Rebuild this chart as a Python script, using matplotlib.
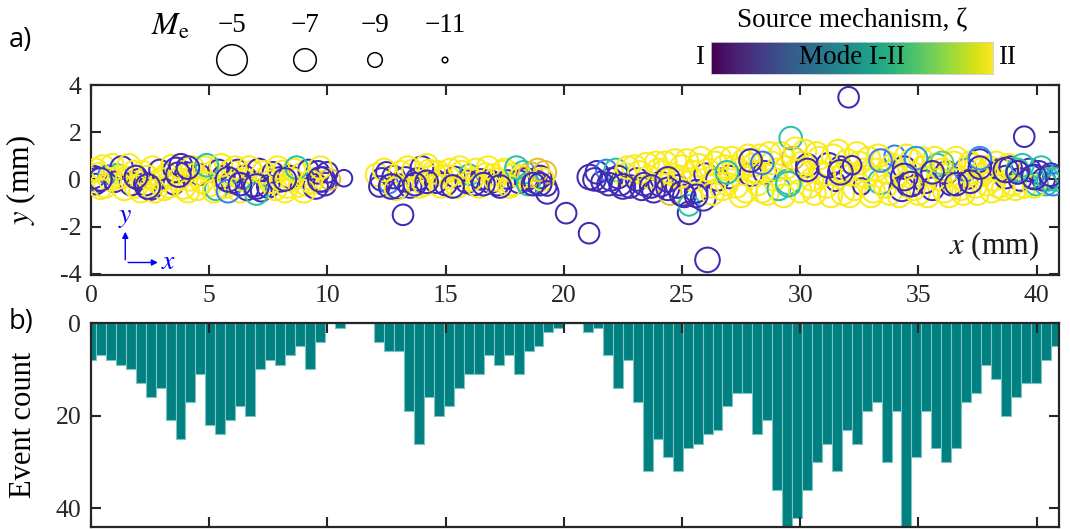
import numpy as np
import matplotlib
matplotlib.use("Agg")
import matplotlib.pyplot as plt
from matplotlib.colors import LinearSegmentedColormap

plt.rcParams['font.family'] = ['Liberation Serif', 'DejaVu Serif']
plt.rcParams['mathtext.fontset'] = 'stix'
plt.rcParams['axes.unicode_minus'] = False

# ---------------- data ----------------
# histogram of event count along x (bins of width bin_w, centred on k*bin_w)
bin_w = 0.4207
event_counts = [8, 7, 8, 9, 10, 13, 16, 14, 21, 25, 17, 11, 22, 24, 21, 18, 20, 10, 8, 9, 7, 5, 10, 4,
                0, 1, 0, 0, 0,
                4, 6, 6, 19, 26, 16, 20, 18, 14, 11, 11, 7, 9, 7, 11, 6, 5, 2, 1,
                0, 0,
                2, 1, 7, 14, 8, 17, 32, 25, 29, 32, 27, 26, 24, 23, 18, 15, 15, 24, 21, 36, 46, 42, 36, 30,
                26, 32, 23, 26, 19, 17, 30, 19, 46, 29, 19, 27, 30, 27, 17, 15, 9, 12, 20, 16, 13, 13, 8, 5]

# events: x (mm), y (mm), magnitude Me, source mechanism zeta (0 = mode I, 1 = mode II)
ev_x = [0.1, 0.2, 0.3, 0.35, 0.5, 0.6, 0.7, 0.9, 1.0, 1.1, 1.3, 1.4, 1.5, 1.7, 1.8, 2.0, 2.1, 2.2, 2.3, 2.5,
        2.6, 2.8, 2.9, 3.1, 3.2, 3.4, 3.5, 3.6, 3.8, 3.9, 4.0, 4.2, 4.3, 4.5, 4.6, 4.8, 5.0, 5.1, 5.3, 5.4,
        5.6, 5.7, 5.9, 6.0, 6.2, 6.3, 6.5, 6.6, 6.8, 6.9, 7.1, 7.2, 7.4, 7.5, 7.7, 7.8, 8.0, 8.1, 8.3, 8.4,
        8.6, 8.8, 8.9, 9.1, 9.2, 9.4, 9.5, 9.6, 9.8, 9.9, 10.0, 10.1, 10.7,
        12.1, 12.2, 12.3, 12.5, 12.6, 12.8, 13.0, 13.1, 13.2, 13.3, 13.5, 13.6, 13.8, 14.0, 14.1, 14.3, 14.4,
        14.6, 14.7, 14.9, 15.0, 15.2, 15.4, 15.5, 15.7, 15.9, 16.0, 16.2, 16.3, 16.5, 16.7, 16.9, 17.0, 17.2,
        17.4, 17.6, 17.8, 17.9, 18.1, 18.3, 18.4, 18.6, 18.8, 19.0, 19.2, 19.3, 19.3, 20.1, 21.07,
        21.1, 21.4, 21.6, 21.8, 22.0, 22.2, 22.4, 22.6, 22.8, 23.0, 23.1, 23.3, 23.5, 23.6, 23.8, 24.0, 24.1,
        24.3, 24.5, 24.6, 24.8, 25.0, 25.1, 25.3, 25.3, 25.4, 25.6, 25.7, 25.9, 26.0, 26.08, 26.2, 26.4, 26.5,
        26.7, 26.8, 27.0, 27.1, 27.3, 27.4, 27.6, 27.7, 27.9, 28.0, 28.2, 28.3, 28.5, 28.6, 28.8, 28.9, 29.1,
        29.2, 29.4, 29.5, 29.6, 29.7, 29.9, 30.0, 30.2, 30.3, 30.5, 30.6, 30.8, 30.9, 31.1, 31.2, 31.4, 31.5,
        31.7, 31.8, 32.0, 32.05, 32.2, 32.3, 32.5, 32.6, 32.8, 32.9, 33.1, 33.2, 33.4, 33.5, 33.7, 33.8, 34.0,
        34.1, 34.3, 34.4, 34.6, 34.7, 34.9, 35.0, 35.2, 35.3, 35.5, 35.6, 35.8, 35.9, 36.1, 36.2, 36.4, 36.5,
        36.7, 36.8, 37.0, 37.1, 37.3, 37.4, 37.6, 37.7, 37.9, 38.0, 38.2, 38.4, 38.5, 38.7, 38.9, 39.0, 39.2,
        39.3, 39.48, 39.5, 39.7, 39.8, 40.0, 40.1, 40.3, 40.4, 40.6, 40.8]
ev_y = [0.1, -0.2, 0.3, 0.0, 0.5, -0.3, 0.2, 0.6, -0.1, 0.3, 0.5, -0.4, 0.1, -0.2, 0.4, 0.0, -0.5, 0.3, -0.2, -0.35,
        0.5, -0.1, 0.4, -0.4, 0.2, 0.6, -0.2, 0.4, 0.6, -0.3, 0.3, 0.0, 0.5, -0.4, 0.2, 0.5, -0.2, 0.3, -0.4, 0.4,
        0.1, -0.3, 0.3, -0.1, 0.4, -0.5, 0.1, -0.4, 0.3, -0.2, 0.4, -0.5, 0.1, -0.3, 0.3, -0.4, 0.0, 0.4, -0.3, 0.1,
        0.4, -0.3, 0.2, -0.2, 0.4, 0.0, -0.3, 0.3, 0.0, -0.2, 0.3, 0.0, 0.05,
        0.2, -0.3, 0.0, 0.3, -0.2, 0.1, -0.3, 0.3, -1.5, 0.0, -0.3, 0.4, 0.0, 0.5, -0.2, 0.4, 0.1,
        -0.1, 0.3, 0.2, -0.2, 0.4, 0.1, -0.3, 0.3, -0.1, 0.2, -0.2, 0.4, 0.0, 0.3, -0.1, 0.2, -0.2,
        0.3, 0.0, -0.2, 0.2, -0.1, 0.3, 0.0, 0.2, -0.1, 0.1, 0.3, -0.3, -0.55, -1.43, -2.28,
        0.1, 0.3, -0.1, 0.4, 0.0, 0.4, -0.2, 0.2, -0.3, 0.5, 0.0, -0.4, 0.6, 0.1, -0.5, 0.4, -0.2,
        0.7, -0.6, 0.2, -0.3, 0.5, -0.7, -1.42, -1.1, 0.0, -0.5, 0.6, -0.8, 0.2, -3.41, -0.3, 0.7, 0.0,
        -0.4, 0.5, 0.1, 0.9, -0.3, 0.4, 0.8, -0.5, 0.2, 0.6, -0.2, 1.0, 0.3, -0.6, 0.7, 0.0, -0.4,
        1.1, 0.5, -0.1, 1.75, 0.9, 0.3, -0.5, 1.2, 0.6, 0.0, -0.6, 0.9, 0.3, -0.3, 0.6, 1.0, -0.1,
        0.5, -0.6, 0.8, 3.48, 0.2, -0.4, 0.7, -0.3, 0.1, 0.9, -0.5, 0.4, -0.1, 0.8, 0.3, -0.6, 1.0,
        0.1, -0.4, 0.5, -0.2, 0.8, 0.2, -0.6, 0.5, -0.1, 0.3, -0.4, 0.6, 0.0, -0.5, 0.3, -0.2, 0.7,
        0.1, -0.4, 0.4, 0.0, 0.6, -0.3, 0.8, 0.2, -0.2, 0.5, 0.0, -0.3, 0.4, 0.1, 0.5, -0.2, 0.3,
        0.0, 1.81, -0.3, 0.4, 0.1, -0.2, 0.3, 0.0, -0.2, 0.1, 0.0]
ev_m = [-7, -7.5, -8, -6.5, -6.5, -7, -8, -7, -7.5, -8.5, -7, -7, -7.5, -7, -8, -7.5, -7, -7, -7, -6.5,
        -7, -7, -7.5, -7, -7, -7.5, -7.5, -6.5, -7, -6.5, -7.5, -7, -7, -7, -7.5, -7, -6.5, -7.5, -7, -7.5,
        -7, -7, -6.5, -7, -7.5, -7, -7, -7, -7, -6.5, -7, -7.5, -7.5, -7, -7.5, -7, -6.5, -8, -7, -7,
        -7, -7.5, -7, -7, -7.5, -7, -6.5, -7, -6.5, -7, -7.5, -7.5, -8.5,
        -7, -7.5, -7, -7.5, -8, -7, -6.5, -7, -7.5, -6.5, -7, -7.5, -7, -7, -7, -7.5, -7,
        -7, -7, -8, -7, -7, -7.5, -7, -7, -7, -7.5, -7, -7, -7.5, -8, -7, -7.5, -7,
        -7, -8, -7, -7, -7, -7, -7, -6.5, -7, -7, -7, -8, -7, -7.5, -7.5,
        -6.5, -7, -7.5, -7.5, -7, -7, -7, -7, -7, -6.5, -7, -7, -6.5, -7, -7, -7, -6.5,
        -7, -7, -7, -7, -6.5, -7, -7, -7.5, -7, -7, -7, -6.5, -7, -6.5, -7, -7, -7,
        -7, -6.5, -7, -7, -7, -7, -7, -7, -7, -7, -7, -7, -7, -7, -7, -7, -7,
        -7, -7, -6.5, -7, -7, -7, -7, -7, -7, -7, -7, -7, -7, -7, -6.5, -7, -8,
        -7, -7, -7, -7.5, -7, -7, -7, -8.5, -7, -7, -7, -7, -6.5, -7, -7, -7, -7.5,
        -7, -6.5, -7, -6.5, -7, -7, -7, -7, -7, -7, -7, -7, -7, -7, -7, -7, -7,
        -7, -7, -7, -8, -7, -7, -7, -7, -7, -7, -7, -7, -7, -7, -7, -7, -7,
        -7, -7.5, -7, -7, -7, -7, -7, -7, -7, -7, -7]
ev_z = [0.02, 0.02, 0.98, 0.02, 0.98, 0.98, 0.3, 0.98, 0.02, 0.6, 0.02, 0.98, 0.98, 0.02, 0.98, 0.02, 0.98, 0.98, 0.02, 0.02,
        0.98, 0.98, 0.02, 0.98, 0.98, 0.98, 0.02, 0.02, 0.02, 0.98, 0.02, 0.98, 0.98, 0.98, 0.02, 0.98, 0.98, 0.98, 0.6, 0.02,
        0.02, 0.98, 0.98, 0.02, 0.02, 0.98, 0.02, 0.02, 0.98, 0.02, 0.02, 0.02, 0.98, 0.02, 0.02, 0.98, 0.02, 0.98, 0.98, 0.02,
        0.98, 0.98, 0.98, 0.98, 0.02, 0.98, 0.02, 0.02, 0.02, 0.02, 0.02, 0.88, 0.02,
        0.98, 0.02, 0.02, 0.02, 0.3, 0.02, 0.02, 0.98, 0.02, 0.02, 0.02, 0.98, 0.02, 0.02, 0.98, 0.98, 0.98,
        0.02, 0.98, 0.98, 0.02, 0.98, 0.02, 0.98, 0.98, 0.02, 0.6, 0.02, 0.98, 0.02, 0.98, 0.02, 0.98, 0.02,
        0.98, 0.02, 0.98, 0.98, 0.02, 0.6, 0.02, 0.88, 0.02, 0.02, 0.88, 0.02, 0.02, 0.02, 0.02,
        0.02, 0.02, 0.02, 0.3, 0.02, 0.6, 0.02, 0.98, 0.02, 0.98, 0.02, 0.02, 0.98, 0.98, 0.02, 0.98, 0.02,
        0.98, 0.88, 0.98, 0.02, 0.98, 0.02, 0.02, 0.6, 0.98, 0.02, 0.98, 0.02, 0.02, 0.02, 0.98, 0.98, 0.02,
        0.98, 0.98, 0.02, 0.98, 0.98, 0.98, 0.98, 0.98, 0.02, 0.98, 0.98, 0.98, 0.02, 0.98, 0.98, 0.98, 0.6,
        0.98, 0.98, 0.6, 0.6, 0.88, 0.98, 0.98, 0.98, 0.02, 0.98, 0.98, 0.98, 0.98, 0.98, 0.02, 0.98, 0.02,
        0.02, 0.98, 0.98, 0.02, 0.98, 0.98, 0.98, 0.02, 0.98, 0.98, 0.98, 0.98, 0.6, 0.98, 0.98, 0.98, 0.3,
        0.98, 0.02, 0.02, 0.02, 0.98, 0.98, 0.98, 0.98, 0.02, 0.98, 0.02, 0.6, 0.98, 0.98, 0.02, 0.02, 0.98,
        0.98, 0.98, 0.3, 0.02, 0.98, 0.98, 0.02, 0.98, 0.98, 0.98, 0.98, 0.98, 0.02, 0.02, 0.02, 0.98, 0.02,
        0.02, 0.02, 0.98, 0.02, 0.02, 0.6, 0.02, 0.02, 0.6, 0.02, 0.6]

# further events (drawn after the first set)
more_x = [0.2, 0.4, 0.8, 1.2, 1.6, 1.9, 2.4, 2.7, 3.0, 3.3, 3.7, 4.1, 4.4, 4.7, 4.9, 5.2, 5.5, 5.8, 6.1, 6.4,
          6.7, 7.0, 7.3, 7.6, 7.9, 8.2, 8.5, 8.7, 9.0, 9.3, 9.7,
          0.4, 1.9, 2.4, 3.7, 4.1, 5.8, 6.3, 7.0, 8.2, 9.7,
          12.4, 12.9, 13.4, 13.9, 14.2, 14.5, 14.8, 15.1, 15.6, 16.1, 16.4, 16.8, 17.1, 17.5, 17.7, 18.0, 18.2,
          18.5, 18.9, 19.1,
          12.7, 13.7, 14.2, 15.3, 16.6, 17.3, 18.7, 19.0,
          21.3, 21.9, 22.3, 22.7, 23.2, 23.4, 23.9, 24.2, 24.4, 24.7, 24.9, 25.2, 25.5, 25.8, 26.1, 26.3, 26.6,
          26.9, 27.2, 27.5, 27.8, 28.1, 28.4, 28.7, 29.0, 29.3, 29.8, 30.1, 30.4, 30.7, 31.0, 31.3, 31.6, 31.9,
          32.1, 32.4, 32.7, 33.0, 33.3, 33.6, 33.9, 34.2, 34.5, 34.8, 35.1, 35.4, 35.7, 36.0, 36.3, 36.6, 36.9,
          37.2, 37.5, 37.8, 38.1, 38.3, 38.6, 38.8, 39.1, 39.4, 39.9, 40.2, 40.7,
          26.9, 28.4, 29.5, 33.4, 34.9, 36.0, 37.6, 39.2, 40.5,
          22.5, 23.7, 24.4, 25.0, 25.6, 27.9, 30.3, 31.7, 32.2, 34.4, 34.7, 35.6, 36.6, 37.2, 37.6, 38.7, 39.2,
          39.9, 40.6]
more_y = [0.4, -0.4, 0.0, 0.1, 0.6, -0.3, 0.1, -0.5, 0.0, -0.3, 0.0, -0.5, 0.2, -0.1, 0.6, -0.5, 0.6, -0.5, 0.5, 0.0,
          0.5, -0.6, 0.3, -0.1, 0.5, -0.5, 0.0, 0.5, -0.5, -0.1, 0.5,
          0.0, 0.1, -0.3, 0.2, 0.5, 0.0, -0.2, -0.3, 0.0, 0.0,
          0.4, -0.4, 0.5, -0.3, 0.6, 0.3, -0.3, 0.1, 0.5, 0.0, -0.3, 0.5, 0.0, 0.4, -0.3, 0.5, 0.1,
          -0.2, 0.4, 0.0,
          -0.3, -0.2, -0.1, -0.3, -0.2, -0.3, -0.2, -0.2,
          0.0, -0.2, 0.1, 0.5, 0.3, -0.2, 0.7, 0.3, -0.4, 0.8, 0.1, 0.8, 0.3, 0.9, 0.4, -0.6, 0.9,
          -0.2, 0.5, -0.7, 1.0, 0.3, -0.5, 1.1, 0.4, -0.7, 1.3, 0.7, -0.3, 1.1, 0.2, -0.7, 1.2, 0.3,
          -0.7, 1.1, 0.4, -0.7, 1.0, -0.3, 0.6, -0.7, 1.0, -0.4, 0.9, -0.7, 0.9, 0.4, -0.7, 0.9, -0.6,
          0.7, -0.6, 0.5, -0.5, 0.7, -0.4, 0.6, -0.4, 0.6, -0.3, 0.5, -0.2,
          0.3, 0.7, -0.2, 0.8, 0.9, 0.7, 0.9, 0.4, 0.0,
          -0.3, -0.3, 0.0, -0.6, -0.7, 0.8, 0.4, 0.3, 0.6, 0.1, -0.2, 0.3, -0.2, -0.1, 0.5, 0.4, 0.3,
          0.1, 0.2]
more_m = [-7, -7.5, -7, -7, -7, -7, -7, -7, -7, -7, -7, -7, -7, -7, -7, -7, -7, -7, -7, -7,
          -7, -7, -7, -7, -7, -7, -7, -7, -7, -7, -7,
          -7, -7, -6.5, -6.5, -7, -6.5, -7, -6.5, -7, -6.5,
          -7, -7, -7, -7, -7, -7, -7, -7, -7, -7, -7, -7, -7, -7, -7, -7, -7,
          -7, -7, -7,
          -6.5, -7, -7, -7, -7, -7, -7, -7,
          -7, -7, -7, -7, -7, -7, -7, -7, -7, -7, -7, -7, -7, -7, -7, -7, -7,
          -7, -7, -7, -7, -7, -7, -7, -7, -7, -7, -7, -7, -7, -7, -7, -7, -7,
          -7, -7, -7, -7, -7, -7, -7, -7, -7, -7, -7, -7, -7, -7, -7, -7, -7,
          -7, -7, -7, -7, -7, -7, -7, -7, -7, -7, -7, -7,
          -7, -7, -6.5, -7, -7, -7, -7, -7, -7,
          -6.5, -7, -6.5, -6.5, -7, -7, -7, -6.5, -8, -6, -6.5, -7, -7, -7, -7, -6.5, -7,
          -6.5, -7]
more_z = [0.98, 0.98, 0.98, 0.98, 0.98, 0.98, 0.98, 0.98, 0.98, 0.98, 0.98, 0.98, 0.98, 0.98, 0.6, 0.98, 0.98, 0.3, 0.98, 0.98,
          0.98, 0.6, 0.98, 0.98, 0.98, 0.98, 0.98, 0.6, 0.98, 0.98, 0.98,
          0.02, 0.02, 0.02, 0.02, 0.02, 0.02, 0.02, 0.02, 0.02, 0.02,
          0.98, 0.98, 0.98, 0.98, 0.98, 0.98, 0.98, 0.98, 0.98, 0.98, 0.98, 0.98, 0.98, 0.98, 0.98, 0.6, 0.98,
          0.6, 0.88, 0.98,
          0.02, 0.02, 0.02, 0.02, 0.02, 0.02, 0.02, 0.02,
          0.02, 0.02, 0.02, 0.98, 0.98, 0.02, 0.98, 0.98, 0.02, 0.98, 0.98, 0.98, 0.98, 0.98, 0.98, 0.98, 0.98,
          0.98, 0.98, 0.98, 0.98, 0.98, 0.98, 0.98, 0.98, 0.98, 0.98, 0.98, 0.98, 0.98, 0.98, 0.98, 0.98, 0.98,
          0.98, 0.98, 0.98, 0.98, 0.98, 0.98, 0.98, 0.98, 0.98, 0.98, 0.98, 0.98, 0.98, 0.98, 0.98, 0.98, 0.98,
          0.98, 0.98, 0.98, 0.98, 0.98, 0.98, 0.98, 0.98, 0.6, 0.98, 0.6, 0.3,
          0.6, 0.3, 0.6, 0.3, 0.4, 0.75, 0.35, 0.6, 0.6,
          0.02, 0.02, 0.02, 0.02, 0.02, 0.02, 0.02, 0.02, 0.02, 0.02, 0.02, 0.02, 0.02, 0.02, 0.02, 0.02, 0.02,
          0.02, 0.02]

legend_mags = [-5, -7, -9, -11]
legend_labels = ['\u22125', '\u22127', '\u22129', '\u221211']
legend_diam_px = [32, 24, 16, 7]   # marker outer diameter in pixels for each legend magnitude

xticks = [0, 5, 10, 15, 20, 25, 30, 35, 40]
yticks_top = [-4, -2, 0, 2, 4]
yticks_bot = [0, 20, 40]

# ---------------- style ----------------
parula = LinearSegmentedColormap.from_list('parula', [
    (0.0, (0.2422, 0.1504, 0.6603)),
    (0.125, (0.2803, 0.2782, 0.9221)),
    (0.25, (0.2440, 0.4358, 0.9988)),
    (0.375, (0.1540, 0.5902, 0.9218)),
    (0.5, (0.0297, 0.7082, 0.8163)),
    (0.625, (0.1938, 0.7758, 0.6251)),
    (0.75, (0.5044, 0.7993, 0.3480)),
    (0.86, (0.8634, 0.7406, 0.1596)),
    (0.92, (0.9892, 0.7500, 0.2000)),
    (1.0, (0.9769, 0.9839, 0.0805))])

W, H = 1070, 529
SERIF = 'Liberation Serif'
fig = plt.figure(figsize=(W / 100, H / 100), dpi=100)
ax1 = fig.add_axes([91 / W, 1 - 275 / H, 968 / W, 190 / H])
ax2 = fig.add_axes([91 / W, 1 - 527 / H, 968 / W, 204 / H])
dark = '#262626'
tick_fs = 18.5
label_fs = 22


def style_axes(ax):
    for sp in ax.spines.values():
        sp.set_linewidth(1.6)
        sp.set_color(dark)
    ax.tick_params(direction='in', length=7, width=1.5, colors=dark, top=True, right=True,
                   labelsize=tick_fs, pad=7)


def mag_to_s(m):
    d_px = np.interp(-np.asarray(m, float), [-mm for mm in legend_mags], legend_diam_px)
    return (d_px * 0.72 - 1.0) ** 2


# ---- top panel ----
all_x = ev_x + more_x
all_y = ev_y + more_y
all_m = ev_m + more_m
all_z = ev_z + more_z
ax1.scatter(all_x, all_y, s=mag_to_s(all_m), facecolors='none',
            edgecolors=parula(np.asarray(all_z)), linewidths=1.45, zorder=3)
ax1.set_xlim(0, 40.95)
ax1.set_ylim(-4.05, 4.0)
ax1.set_xticks(xticks)
ax1.set_xticklabels([str(t) for t in xticks], fontfamily=SERIF)
ax1.set_yticks(yticks_top)
ax1.set_yticklabels([str(t) for t in yticks_top], fontfamily=SERIF)
style_axes(ax1)
ax1.set_ylabel('$y$ (mm)', fontsize=label_fs)
ax1.yaxis.set_label_coords(-0.055, 0.5)
ax1.text(40.1, -2.85, '$x$ (mm)', fontsize=label_fs, ha='right', va='center', color='#1a1a1a')

# xy direction indicator
ax1.annotate('', xy=(1.45, -2.1), xytext=(1.45, -3.52),
             arrowprops=dict(arrowstyle='-|>', color='blue', lw=1.0, mutation_scale=9))
ax1.annotate('', xy=(2.95, -3.52), xytext=(1.45, -3.52),
             arrowprops=dict(arrowstyle='-|>', color='blue', lw=1.0, mutation_scale=9))
ax1.text(1.45, -1.6, '$y$', color='blue', fontsize=20, ha='center', va='center')
ax1.text(3.3, -3.5, '$x$', color='blue', fontsize=20, ha='center', va='center')

# ---- bottom panel ----
centers = np.arange(len(event_counts)) * bin_w
ax2.bar(centers, event_counts, width=bin_w, color='#008080', edgecolor='#7cc4c2', linewidth=0.8)
ax2.set_xlim(0, 40.95)
ax2.set_ylim(44, 0)
ax2.set_xticks(xticks)
ax2.set_xticklabels([])
ax2.set_yticks(yticks_bot)
ax2.set_yticklabels([str(t) for t in yticks_bot], fontfamily=SERIF)
style_axes(ax2)
ax2.set_ylabel('Event count', fontsize=label_fs)
ax2.yaxis.set_label_coords(-0.055, 0.5)

# ---- overlay for legend / colorbar / panel labels ----
ov = fig.add_axes([0, 0, 1, 1], zorder=5)
ov.set_xlim(0, W)
ov.set_ylim(H, 0)
ov.axis('off')
ov.text(9, 40, 'a)', fontsize=19.5, family='Open Sans', va='center', ha='left')
ov.text(9, 322, 'b)', fontsize=19.5, family='Open Sans', va='center', ha='left')

ov.text(170, 27, r'$M_\mathrm{e}$', fontsize=23, ha='center', va='center')
leg_cx = [232, 305, 375, 445]
for cx, lab, d in zip(leg_cx, legend_labels, legend_diam_px):
    ov.text(cx, 25, lab, fontsize=19.5, ha='center', va='center', family=SERIF)
    ov.scatter([cx], [60], s=(d * 0.72 - 1.0) ** 2, facecolors='none', edgecolors='black', linewidths=1.1)

cax = fig.add_axes([711 / W, 1 - 74 / H, 282 / W, 32 / H], zorder=6)
cax.imshow(np.linspace(0, 1, 256)[None, :], aspect='auto', cmap='viridis', extent=[0, 1, 0, 1])
cax.set_xticks([])
cax.set_yticks([])
for sp in cax.spines.values():
    sp.set_linewidth(0.6)
    sp.set_color('#cccccc')
cax.text(0.5, 0.5, 'Mode I-II', transform=cax.transAxes, ha='center', va='center', fontsize=19.5,
         color='black', family=SERIF)
ov.text(852, 21, 'Source mechanism, \u03b6', fontsize=19.5, ha='center', va='center', family=SERIF)
ov.text(700, 58, 'I', fontsize=19.5, ha='center', va='center', family=SERIF)
ov.text(1007, 58, 'II', fontsize=19.5, ha='center', va='center', family=SERIF)

fig.savefig('out.png', dpi=100)
